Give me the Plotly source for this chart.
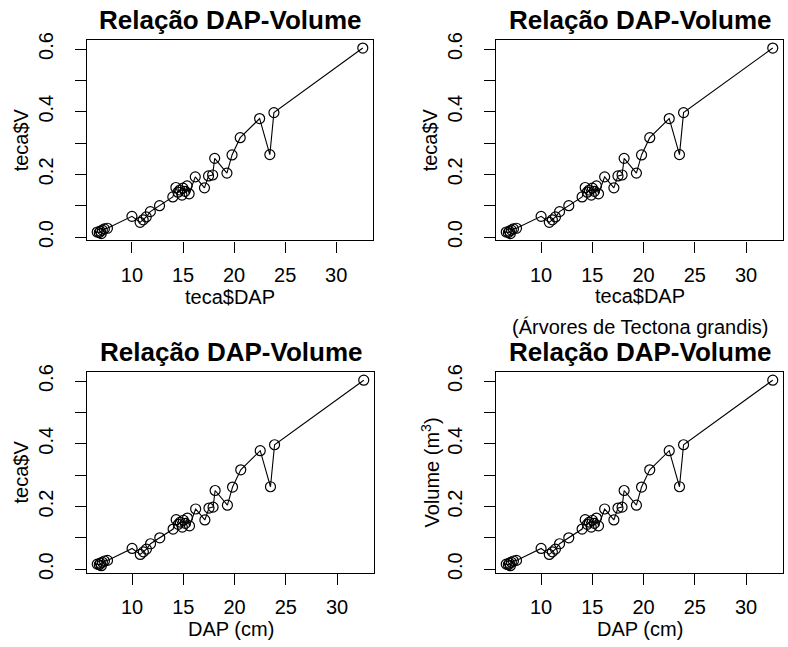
import plotly.graph_objects as go

# ---- data ----
dap = [6.6, 6.8, 6.9, 7.0, 7.1, 7.3, 7.6, 10.0, 10.8, 11.1, 11.4, 11.8, 12.7,
       14.0, 14.3, 14.5, 14.7, 14.9, 15.0, 15.2, 15.4, 15.6, 16.2, 17.1, 17.5,
       17.9, 18.1, 19.3, 19.8, 20.6, 22.5, 23.5, 23.9, 32.6]
vol = [0.016, 0.014, 0.019, 0.011, 0.022, 0.026, 0.028, 0.066, 0.047, 0.055, 0.064, 0.081, 0.100,
       0.128, 0.158, 0.143, 0.150, 0.134, 0.156, 0.146, 0.163, 0.138, 0.192, 0.157, 0.195,
       0.198, 0.251, 0.204, 0.262, 0.317, 0.378, 0.263, 0.397, 0.603]

x_ticks = [10, 15, 20, 25, 30]
y_ticks = [0.0, 0.2, 0.4, 0.6]
y_ticktext = ["0.0", "0.2", "0.4", "0.6"]
y_minor_step = 0.1

panel_title = "Relação DAP-Volume"
x_titles = ["teca$DAP", "teca$DAP", "DAP (cm)", "DAP (cm)"]
x_subtitles = ["", "(Árvores de Tectona grandis)", "", ""]
y_titles = ["teca$V", "teca$V", "teca$V", "Volume (m<sup>3</sup>)"]

# ---- layout (pixels) ----
W, H = 788, 647
boxes = [(87, 33, 373, 238), (496, 33, 783, 238), (87, 373, 374, 578), (496, 373, 783, 578)]
FONT = "Liberation Sans, Arial, sans-serif"

def px(x):
    return x / W

def py(y):
    return 1 - y / H

fig = go.Figure()
annotations = []
for i, (l, t, r, b) in enumerate(boxes):
    k = "" if i == 0 else str(i + 1)
    fig.add_trace(go.Scatter(
        x=dap, y=vol, mode="lines+markers",
        line=dict(color="black", width=1.1),
        marker=dict(symbol="circle-open", size=10, color="black", line=dict(width=1.2)),
        xaxis="x" + k, yaxis="y" + k, showlegend=False, hoverinfo="x+y"))
    common = dict(showline=True, linecolor="black", linewidth=1.4, mirror=True,
                  ticks="outside", ticklen=11, tickwidth=1.2, tickcolor="black",
                  showgrid=False, zeroline=False,
                  tickfont=dict(family=FONT, size=20, color="black"))
    fig.update_layout(**{
        "xaxis" + k: dict(domain=[px(l), px(r)], range=[5.6, 33.6], anchor="y" + k,
                          tickvals=x_ticks, ticklabelstandoff=5, **common),
        "yaxis" + k: dict(domain=[py(b), py(t)], range=[-0.011, 0.628], anchor="x" + k,
                          tickvals=y_ticks, ticktext=y_ticktext, tickangle=-90,
                          ticklabelstandoff=14,
                          minor=dict(dtick=y_minor_step, tick0=0, ticks="outside", ticklen=11,
                                     tickwidth=1.2, tickcolor="black", showgrid=False),
                          **common),
    })
    cx = (l + r) / 2
    annotations.append(dict(text="<b>" + panel_title + "</b>", x=px(cx), y=py(t - 21),
                            xref="paper", yref="paper", showarrow=False,
                            font=dict(family=FONT, size=26, color="black"),
                            xanchor="center", yanchor="middle"))
    xt_off = 58 if x_subtitles[i] == "" else 57
    annotations.append(dict(text=x_titles[i], x=px(cx), y=py(b + xt_off),
                            xref="paper", yref="paper", showarrow=False,
                            font=dict(family=FONT, size=20, color="black"),
                            xanchor="center", yanchor="middle"))
    if x_subtitles[i]:
        annotations.append(dict(text=x_subtitles[i], x=px(cx), y=py(b + 89),
                                xref="paper", yref="paper", showarrow=False,
                                font=dict(family=FONT, size=20, color="black"),
                                xanchor="center", yanchor="middle"))
    annotations.append(dict(text=y_titles[i], x=px(l - 66), y=py((t + b) / 2),
                            xref="paper", yref="paper", showarrow=False, textangle=-90,
                            font=dict(family=FONT, size=20, color="black"),
                            xanchor="center", yanchor="middle"))

fig.update_layout(width=W, height=H, margin=dict(l=0, r=0, t=0, b=0),
                  paper_bgcolor="white", plot_bgcolor="white",
                  annotations=annotations, font=dict(family=FONT, color="black"))

fig.write_html("out.html")
